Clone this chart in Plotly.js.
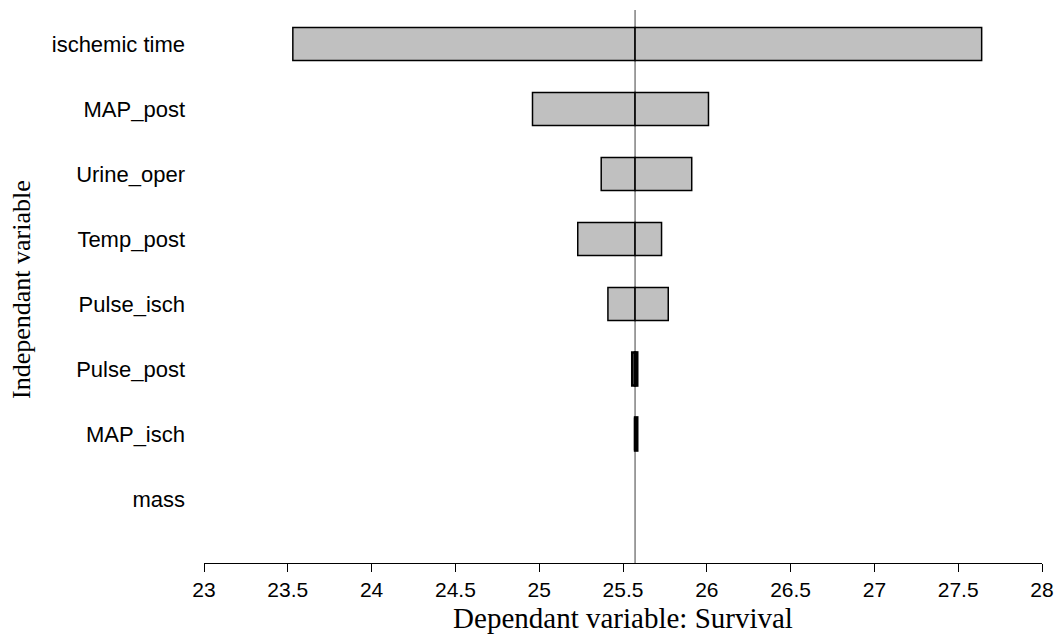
<!DOCTYPE html>
<html>
<head>
<meta charset="utf-8">
<script src="https://cdn.plot.ly/plotly-3.0.1.min.js"></script>
<style>html,body{margin:0;padding:0;background:#fff;}#chart{width:1058px;height:634px;}</style>
</head>
<body>
<div id="chart"></div>
<script>
var categories = ["ischemic time","MAP_post","Urine_oper","Temp_post","Pulse_isch","Pulse_post","MAP_isch","mass"];
var lowValues  = [23.53, 24.96, 25.37, 25.23, 25.41, 25.555, 25.572, null];
var highValues = [27.64, 26.01, 25.91, 25.73, 25.77, 25.585, 25.585, null];
var baseValue = 25.572;
var xTicks = [23, 23.5, 24, 24.5, 25, 25.5, 26, 26.5, 27, 27.5, 28];
var xTitle = 'Dependant variable: Survival';
var yTitle = 'Independant variable';

var lowDelta = lowValues.map(function(v){ return v === null ? null : v - baseValue; });
var highDelta = highValues.map(function(v){ return v === null ? null : v - baseValue; });

var barStyle = {color: '#c0c0c0', line: {color: '#000000', width: [1.5,1.5,1.5,1.5,1.5,2.5,2.5,1.5]}};
var traces = [
  {type: 'bar', orientation: 'h', y: categories, x: lowDelta, base: baseValue, width: 0.51, marker: barStyle, name: 'low', hoverinfo: 'skip'},
  {type: 'bar', orientation: 'h', y: categories, x: highDelta, base: baseValue, width: 0.51, marker: barStyle, name: 'high', hoverinfo: 'skip'}
];

var layout = {
  width: 1058, height: 634,
  margin: {l: 204, r: 16, t: 10, b: 71},
  paper_bgcolor: '#ffffff', plot_bgcolor: '#ffffff',
  showlegend: false,
  barmode: 'overlay',
  font: {family: 'Liberation Sans, Arial, sans-serif', color: '#000000', size: 16},
  xaxis: {
    range: [23, 28], tickvals: xTicks, ticktext: xTicks.map(String),
    showgrid: false, zeroline: false, showline: true, linecolor: '#000000', linewidth: 1,
    ticks: 'outside', ticklen: 8, tickcolor: '#000000', tickwidth: 1,
    tickfont: {size: 21},
    title: {text: xTitle, font: {family: 'Liberation Serif, Times New Roman, serif', size: 29}, standoff: 20}
  },
  yaxis: {
    type: 'category', categoryorder: 'array', categoryarray: categories,
    range: [7.985, -0.523],
    showgrid: false, zeroline: false, showline: false, ticks: '',
    ticklabelstandoff: 18,
    tickfont: {size: 22}
  },
  annotations: [{
    text: yTitle, textangle: -90, showarrow: false,
    xref: 'paper', yref: 'paper', x: -0.2172, y: 0.4955, xanchor: 'center', yanchor: 'middle',
    font: {family: 'Liberation Serif, Times New Roman, serif', size: 26, color: '#000000'}
  }],
  shapes: [{type: 'line', xref: 'x', yref: 'paper', x0: baseValue, x1: baseValue, y0: 0, y1: 1, line: {color: '#808080', width: 1.5}, layer: 'below'}]
};

Plotly.newPlot('chart', traces, layout, {displayModeBar: false, staticPlot: true});
</script>
</body>
</html>
